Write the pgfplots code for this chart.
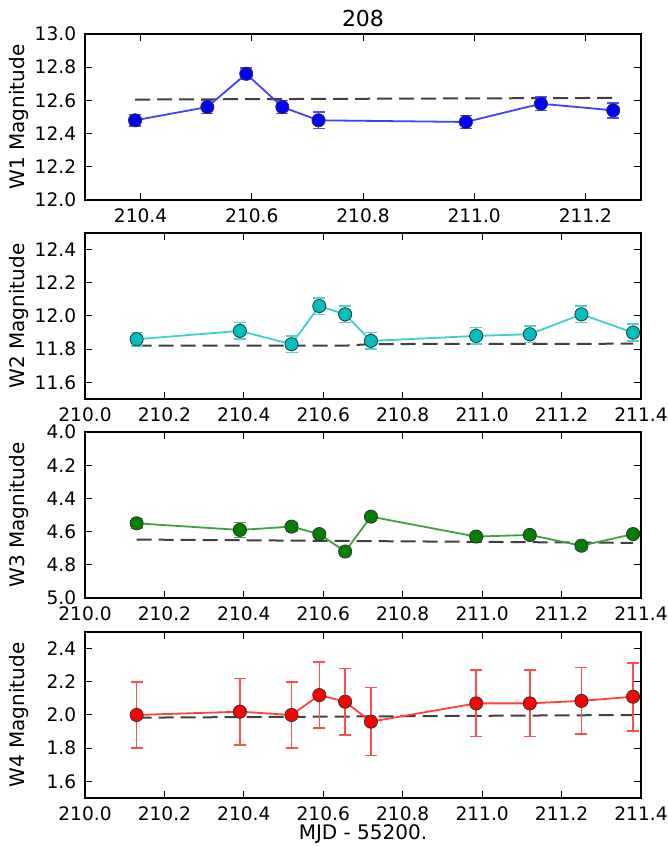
\documentclass[border=0pt]{standalone}
\usepackage{fontspec}
\setmainfont{DejaVu Sans}
\usepackage{pgfplots}
\pgfplotsset{compat=1.18}
\definecolor{mb}{rgb}{0,0,1}
\definecolor{mc}{rgb}{0,0.75,0.75}
\definecolor{mg}{rgb}{0,0.5,0}
\definecolor{mr}{rgb}{1,0,0}
\definecolor{dashc}{rgb}{0.25,0.25,0.25}
\pgfplotsset{
  wise/.style={
    scale only axis, width=278pt, height=83pt,
    axis line style={line width=0.6pt, black},
    tick align=inside, xtick pos=both, ytick pos=both,
    major tick length=3.5pt,
    tick style={black, line width=0.5pt},
    ticklabel style={font=\fontsize{9.3}{11}\selectfont},
    xticklabel style={yshift=-0.9pt},
    yticklabel style={xshift=-0.9pt},
    label style={font=\fontsize{9.3}{11}\selectfont},
    /pgf/number format/.cd, fixed, fixed zerofill, precision=1, 1000 sep={}, assume math mode=true,
    /pgfplots/.cd,
    xmin=210.0, xmax=211.4,
    xtick={210.0,210.2,210.4,210.6,210.8,211.0,211.2,211.4},
    every axis y label/.style={at={(axis description cs:-0.1097,0.5)}, rotate=90, anchor=base},
    every axis title/.style={at={(axis description cs:0.5,1)}, anchor=base, yshift=3.5pt, font=\fontsize{11}{13}\selectfont},
    every axis x label/.style={at={(axis description cs:0.5,0)}, anchor=base, yshift=-21pt},
    anchor=south west,
  },
  dat/.style={color=#1!75, line width=0.9pt, mark=*, mark size=3.3pt,
    mark options={fill=#1, draw=black!80, line width=0.4pt, solid},
    error bars/.cd, y dir=both, y explicit,
    error bar style={color=#1!70, line width=0.8pt},
    error mark options={rotate=90, mark size=3pt, color=#1!70, line width=0.8pt}},
  fit/.style={dashc, line width=1pt, dash pattern=on 7.5pt off 3.5pt},
}
\begin{document}
\begin{tikzpicture}
\useasboundingbox (0,0) rectangle (334pt,423pt);
% W1
\begin{axis}[wise, at={(42.5pt,323pt)}, xmin=210.3, xmax=211.3,
  xtick={210.4,210.6,210.8,211.0,211.2},
  ymin=12.0, ymax=13.0, ytick={12.0,12.2,12.4,12.6,12.8,13.0},
  ylabel={W1 Magnitude}, title={208}]
\addplot[fit] coordinates {(210.39,12.605) (211.25,12.615)};
\addplot[dat=mb] coordinates {
(210.39,12.48) +- (0,0.035)
(210.52,12.56) +- (0,0.04)
(210.59,12.76) +- (0,0.035)
(210.655,12.56) +- (0,0.04)
(210.72,12.48) +- (0,0.05)
(210.985,12.47) +- (0,0.04)
(211.12,12.58) +- (0,0.04)
(211.25,12.54) +- (0,0.045)
};
\end{axis}
% W2
\begin{axis}[wise, at={(42.5pt,223.5pt)},
  ymin=11.5, ymax=12.5, ytick={11.6,11.8,12.0,12.2,12.4},
  ylabel={W2 Magnitude}]
\addplot[fit] coordinates {(210.13,11.822) (210.66,11.822) (210.72,11.831) (211.38,11.833)};
\addplot[dat=mc] coordinates {
(210.13,11.86) +- (0,0.04)
(210.39,11.91) +- (0,0.05)
(210.52,11.83) +- (0,0.05)
(210.59,12.06) +- (0,0.05)
(210.655,12.01) +- (0,0.05)
(210.72,11.85) +- (0,0.05)
(210.985,11.88) +- (0,0.05)
(211.12,11.89) +- (0,0.05)
(211.25,12.01) +- (0,0.05)
(211.38,11.90) +- (0,0.05)
};
\end{axis}
% W3
\begin{axis}[wise, at={(42.5pt,124pt)}, y dir=reverse,
  ymin=4.0, ymax=5.0, ytick={4.0,4.2,4.4,4.6,4.8,5.0},
  ylabel={W3 Magnitude}]
\addplot[fit] coordinates {(210.13,4.648) (211.38,4.668)};
\addplot[dat=mg] coordinates {
(210.13,4.55) +- (0,0.03)
(210.39,4.59) +- (0,0.045)
(210.52,4.57) +- (0,0.025)
(210.59,4.615) +- (0,0.02)
(210.655,4.72) +- (0,0.02)
(210.72,4.51) +- (0,0.02)
(210.985,4.63) +- (0,0.02)
(211.12,4.62) +- (0,0.02)
(211.25,4.685) +- (0,0.02)
(211.38,4.615) +- (0,0.02)
};
\end{axis}
% W4
\begin{axis}[wise, at={(42.5pt,24pt)},
  ymin=1.5, ymax=2.5, ytick={1.6,1.8,2.0,2.2,2.4},
  ylabel={W4 Magnitude}, xlabel={MJD - 55200.}]
\addplot[fit] coordinates {(210.13,1.984) (211.38,2.0)};
\addplot[dat=mr] coordinates {
(210.13,2.00) +- (0,0.2)
(210.39,2.02) +- (0,0.2)
(210.52,2.00) +- (0,0.2)
(210.59,2.12) +- (0,0.2)
(210.655,2.08) +- (0,0.2)
(210.72,1.96) +- (0,0.205)
(210.985,2.07) +- (0,0.2)
(211.12,2.07) +- (0,0.2)
(211.25,2.085) +- (0,0.2)
(211.38,2.11) +- (0,0.205)
};
\end{axis}
\end{tikzpicture}
\end{document}
